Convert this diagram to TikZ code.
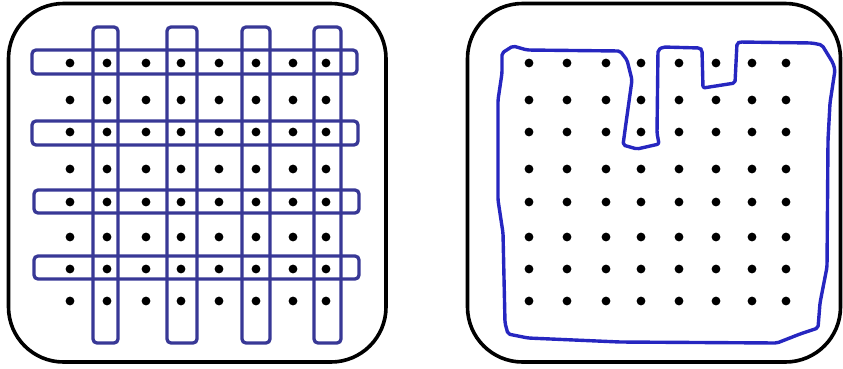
\documentclass[tikz,border=0pt]{standalone}
\definecolor{barblue}{RGB}{56,56,150}
\definecolor{penblue}{RGB}{38,38,192}
\tikzset{
  frame/.style={draw=black,line width=3.6pt,rounded corners=55pt},
  bar/.style={draw=barblue,line width=3.3pt,rounded corners=4pt},
  pen/.style={draw=penblue,line width=3.4pt,line join=round,line cap=round,rounded corners=2pt},
  dot/.style={fill=black}
}
\begin{document}
\begin{tikzpicture}[x=1pt,y=-1pt]
\useasboundingbox (0,0) rectangle (843,368);
% frames
\draw[frame] (8.5,3.5) rectangle (386,362);
\draw[frame] (467.5,3.5) rectangle (840.5,362);
% left dots
\foreach \x in {70,107,146,181,219,256,293,326}
  \foreach \y in {63,100,132,169,202,237,269,301}
    \fill[dot] (\x,\y) circle (4.4);
% horizontal bars
\draw[bar] (32,50) rectangle (357,74);
\draw[bar] (32,121) rectangle (358,145);
\draw[bar] (34,190) rectangle (359,213);
\draw[bar] (34,256) rectangle (359,279);
% vertical bars
\draw[bar] (93,27) rectangle (118,343);
\draw[bar] (167,27) rectangle (197,343);
\draw[bar] (242,27) rectangle (270,343);
\draw[bar] (314,27) rectangle (341,343);
% right dots
\foreach \x in {529,567,606,641,679,716,752,786}
  \foreach \y in {63,100,132,169,202,237,269,301}
    \fill[dot] (\x,\y) circle (4.4);
% freehand outline
\draw[pen] (502,53) -- (513,46) -- (527,50) -- (620,51) -- (627,60) -- (632,80)
  -- (626,123) -- (623,145) -- (637,149) -- (659,144) -- (657,133) -- (658,50)
  -- (663,47) -- (700,48) -- (702,50) -- (703,88) -- (735,83) -- (737,43)
  -- (740,42) -- (812,43) -- (822,45) -- (833,63) -- (835,70) -- (830,103)
  -- (828,140) -- (827,267) -- (820,303) -- (818,328) -- (800,334) -- (777,343)
  -- (620,342) -- (528,338) -- (508,334) -- (505,323) -- (503,233) -- (498,200)
  -- (498,100) -- (502,73) -- cycle;
\end{tikzpicture}
\end{document}
